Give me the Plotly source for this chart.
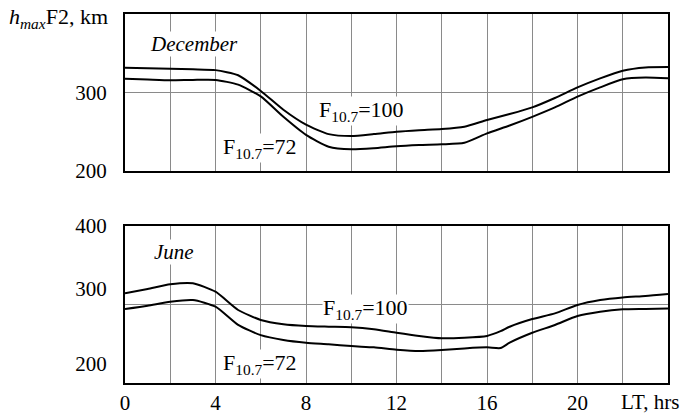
import plotly.graph_objects as go

# ---------------- data ----------------
hours = [0, 1, 2, 3, 4, 5, 6, 7, 8, 9, 10, 11, 12, 13, 14, 15, 16, 17, 18, 19, 20, 21, 22, 23, 24]

dec_f100 = [331.6, 331, 330.3, 329.5, 328.5, 322, 302, 278, 259, 247, 244.6, 247, 250,
            252, 253.5, 256.5, 265, 272.5, 281, 293, 306.5, 318, 327.8, 332, 332.5]
dec_f72 = [317.6, 316.5, 315.5, 316, 316, 310, 295, 269, 246, 231, 227.6, 229, 231.5,
           233, 234, 236, 248, 258, 269, 281, 294.7, 306.5, 316.8, 319, 318]

jun_hours = [0, 1, 2, 3, 4, 5, 6, 7, 8, 9, 10, 11, 12, 13, 14, 15, 16, 16.6, 17, 18, 19, 20, 21, 22, 23, 24]
jun_f100 = [314.3, 319.7, 325.7, 327, 316.3, 293, 280.3, 274.8, 272.6, 271.7, 271, 268.4, 264,
            260, 257, 257.7, 260, 266, 271.7, 281.5, 288.7, 299.4, 305.7, 309, 310.8, 313.4]
jun_f72 = [294.3, 298.5, 303.6, 305.7, 297.2, 274, 261, 254.8, 251.3, 249.3, 247, 245.4, 242.5,
           240.8, 242, 244, 245.4, 244.5, 251.4, 264, 273.9, 285.3, 290.8, 293.8, 294.3, 295]

x_tick_vals = [0, 4, 8, 12, 16, 20]
x_tick_text = ["0", "4", "8", "12", "16", "20"]
dec_y_tick_vals = [200, 300]
dec_y_tick_text = ["200", "300"]
jun_y_tick_vals = [225, 320, 400]
jun_y_tick_text = ["200", "300", "400"]

FONT = "Liberation Serif"
FS = 21
GRID = "#8a8a8a"

fig = go.Figure()
line = dict(color="black", width=2, shape="spline", smoothing=0.6)
fig.add_trace(go.Scatter(x=hours, y=dec_f100, mode="lines", line=line, xaxis="x", yaxis="y", showlegend=False))
fig.add_trace(go.Scatter(x=hours, y=dec_f72, mode="lines", line=line, xaxis="x", yaxis="y", showlegend=False))
fig.add_trace(go.Scatter(x=jun_hours, y=jun_f100, mode="lines", line=line, xaxis="x2", yaxis="y2", showlegend=False))
fig.add_trace(go.Scatter(x=jun_hours, y=jun_f72, mode="lines", line=line, xaxis="x2", yaxis="y2", showlegend=False))

xcommon = dict(range=[0, 24], showline=True, mirror=True, linecolor="black", linewidth=2,
               showgrid=True, gridcolor=GRID, gridwidth=1, tickvals=x_tick_vals, ticks="",
               minor=dict(dtick=2, tick0=0, showgrid=True, gridcolor=GRID, gridwidth=1),
               zeroline=False, tickfont=dict(family=FONT, size=FS, color="black"),
               fixedrange=True, automargin=False)

ycommon = dict(range=[200, 400], showline=True, mirror=True, linecolor="black", linewidth=2,
               ticks="", zeroline=False, ticklabelstandoff=12, automargin=False, fixedrange=True,
               tickfont=dict(family=FONT, size=FS, color="black"))

fig.update_layout(
    width=680, height=416,
    margin=dict(l=125, r=12, t=14, b=33),
    paper_bgcolor="white", plot_bgcolor="white",
    font=dict(family=FONT, size=FS, color="black"),
    xaxis=dict(xcommon, anchor="y", showticklabels=False, domain=[0, 1]),
    xaxis2=dict(xcommon, anchor="y2", ticktext=x_tick_text, showticklabels=True, ticklabelstandoff=0),
    yaxis=dict(ycommon, domain=[0.5745, 1], tickvals=dec_y_tick_vals, ticktext=dec_y_tick_text,
               showgrid=True, gridcolor=GRID, gridwidth=1),
    yaxis2=dict(ycommon, domain=[0, 0.4255], tickvals=jun_y_tick_vals, ticktext=jun_y_tick_text,
                showgrid=False),
)

# horizontal grid line at 300 km in the June panel
fig.add_shape(type="line", xref="x2 domain", yref="y2", x0=0, x1=1, y0=300, y1=300,
              line=dict(color=GRID, width=1), layer="below")

def ann(text, x, y, xref, yref, xanchor="left", yanchor="middle", bg="white", size=22):
    fig.add_annotation(text=text, x=x, y=y, xref=xref, yref=yref, xanchor=xanchor, yanchor=yanchor,
                       showarrow=False, bgcolor=bg, borderpad=0,
                       font=dict(family=FONT, size=size, color="black"))

ann("<i>December</i>", 3.05, 362, "x", "y", xanchor="center", size=21)
ann("<i>June</i>", 2.17, 367, "x2", "y2", xanchor="center", size=21)
ann("F<sub>10.7</sub>=100", 8.53, 276, "x", "y")
ann("F<sub>10.7</sub>=72", 4.29, 229, "x", "y")
ann("F<sub>10.7</sub>=100", 8.7, 294, "x2", "y2")
ann("F<sub>10.7</sub>=72", 4.27, 224, "x2", "y2")
ann("<i>h</i><sub><i>max</i></sub>F2, km", -0.2155, 0.989, "paper", "paper", bg="rgba(0,0,0,0)")
ann("LT, hrs", 1.022, -0.0515, "paper", "paper", xanchor="right", bg="rgba(0,0,0,0)", size=21)

fig.write_html("out.html", config={"displayModeBar": False},
               post_script="document.body.style.margin='0';document.body.style.overflow='hidden';")
